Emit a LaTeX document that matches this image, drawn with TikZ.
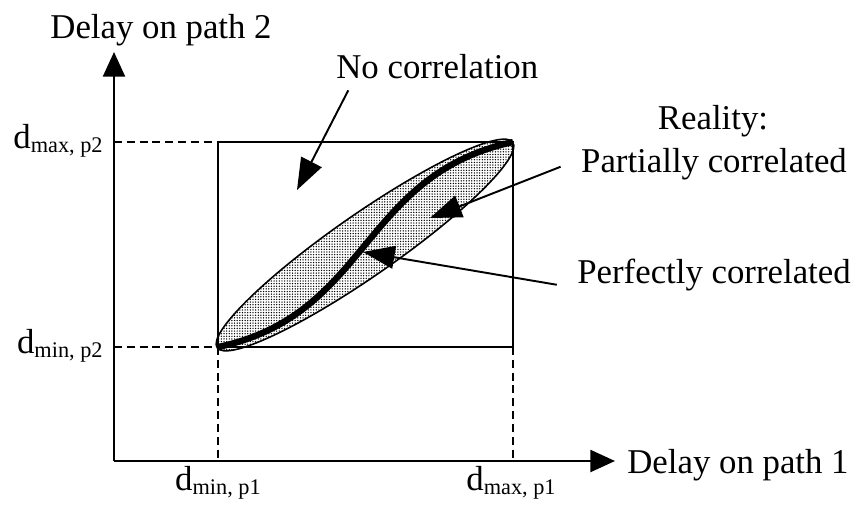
\documentclass[tikz,border=0pt]{standalone}
\usepackage{fontspec}
\setmainfont{Liberation Serif}
\usepackage{tikz}
\usetikzlibrary{arrows.meta,patterns.meta}
\newcommand{\dsub}[1]{d\raisebox{-2.6pt}{\fontsize{12.7}{13}\selectfont #1}}
\tikzset{
  lbl/.style={inner sep=0pt,font=\fontsize{19.8}{23}\selectfont},
  ax/.style={-{Triangle[length=14pt,width=12.5pt]},line width=1.3pt},
  arr/.style={-{Triangle[length=18pt,width=13pt]},line width=1.1pt},
  dsh/.style={dash pattern=on 4.5pt off 2.8pt,line width=1.3pt},
  box/.style={line width=1pt},
  cloud/.style={draw,line width=0.9pt,pattern={Dots[distance=1.5pt,radius=0.42pt]}},
  perf/.style={line width=3.6pt}
}
\begin{document}
\begin{tikzpicture}[x=0.02cm,y=-0.02cm]
  \useasboundingbox (0,0) rectangle (860,505);
  \coordinate (o) at (114,461);
  \coordinate (ytip) at (114,52);
  \coordinate (xtip) at (615,461);
  \coordinate (lo) at (218,347);
  \coordinate (hi) at (513,142);
  \coordinate (nctip) at (297,190);
  \coordinate (pctip) at (430,218);
  \coordinate (cctip) at (363,252);
  % projections of the box
  \draw[dsh] (o |- hi) -- (lo |- hi);
  \draw[dsh] (o |- lo) -- (lo);
  \draw[dsh] (lo) -- (lo |- o);
  \draw[dsh] (hi |- lo) -- (hi |- o);
  \draw[box] (lo) rectangle (hi);
  \draw[cloud,rotate around={34.8:(365,245)}] (365,245) ellipse [x radius=180,y radius=31];
  \draw[perf] (lo) .. controls (370,315) and (360,175) .. (hi);
  \draw[ax] (o) -- (ytip);
  \draw[ax] (o) -- (xtip);
  % labels
  \node[lbl,anchor=base] (ylab) at (161,38) {Delay on path 2};
  \node[lbl,anchor=base west] (xlab) at (627,473) {Delay on path 1};
  \node[lbl,anchor=base west] (nocorr) at (336,78) {No correlation};
  \node[lbl,anchor=base] (real) at (713,129) {Reality:};
  \node[lbl,anchor=base] (partial) at (714,172) {Partially correlated};
  \node[lbl,anchor=base] (perfect) at (714,283) {Perfectly correlated};
  \node[lbl,anchor=base east] (dmax2) at (103,148) {\dsub{max, p2}};
  \node[lbl,anchor=base east] (dmin2) at (103,353) {\dsub{min, p2}};
  \node[lbl,anchor=base] (dmin1) at (218,490) {\dsub{min, p1}};
  \node[lbl,anchor=base] (dmax1) at (511,490) {\dsub{max, p1}};
  \draw[arr] ([xshift=7pt,yshift=-7pt]nocorr.base west) -- (nctip);
  \draw[arr] ([xshift=-11.5pt,yshift=3pt]partial.base west) -- (pctip);
  \draw[arr] ([xshift=-11.5pt,yshift=-1pt]perfect.base west) -- (cctip);
\end{tikzpicture}
\end{document}
